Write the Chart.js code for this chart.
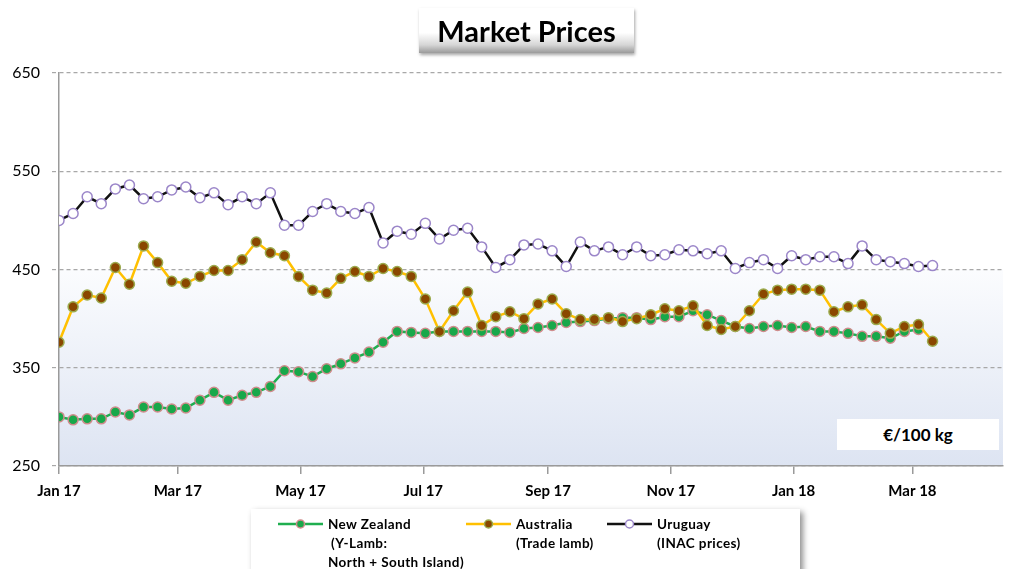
<!DOCTYPE html>
<html>
<head>
<meta charset="utf-8">
<script src="https://cdn.jsdelivr.net/npm/chart.js@4.4.1/dist/chart.umd.min.js"></script>
<style>
  html, body { margin: 0; padding: 0; background: #fff; }
  #wrap { position: relative; width: 1022px; height: 569px; overflow: hidden; font-family: Lato, "Open Sans", sans-serif; }
  canvas { position: absolute; left: 0; top: 0; }
  #title { position: absolute; left: 419px; top: 8px; width: 215px; height: 45px;
    background: linear-gradient(to bottom, #ffffff 0%, #ffffff 55%, #d6d6d6 82%, #9a9a9a 100%);
    box-shadow: 1px 2px 3px rgba(0,0,0,0.35);
    font-weight: bold; font-size: 29px; line-height: 46px; text-align: center; color: #000; }
  #unit { position: absolute; left: 837px; top: 419px; width: 162px; height: 31px; background: #fff;
    font-weight: bold; font-size: 17px; line-height: 31px; text-align: center; color: #000; }
  #legend { position: absolute; left: 251px; top: 509px; width: 549px; height: 80px; background: #fff;
    box-shadow: 3px 3px 6px rgba(0,0,0,0.45); }
  .item { position: absolute; top: 6px; font-weight: bold; font-size: 13.5px; line-height: 19px; color: #000; letter-spacing: 0.4px; }
  .item svg { position: absolute; left: 0; top: 3px; }
  .item .txt { position: absolute; white-space: nowrap; }
</style>
</head>
<body>
<div id="wrap">
  <canvas id="c" width="1022" height="569"></canvas>
  <div id="title">Market Prices</div>
  <div id="unit">€/100 kg</div>
  <div id="legend"></div>
</div>
<script>
// ---- data ----
const weeks = [
  "2017-01-01","2017-01-08","2017-01-15","2017-01-22","2017-01-29",
  "2017-02-05","2017-02-12","2017-02-19","2017-02-26",
  "2017-03-05","2017-03-12","2017-03-19","2017-03-26",
  "2017-04-02","2017-04-09","2017-04-16","2017-04-23","2017-04-30",
  "2017-05-07","2017-05-14","2017-05-21","2017-05-28",
  "2017-06-04","2017-06-11","2017-06-18","2017-06-25",
  "2017-07-02","2017-07-09","2017-07-16","2017-07-23","2017-07-30",
  "2017-08-06","2017-08-13","2017-08-20","2017-08-27",
  "2017-09-03","2017-09-10","2017-09-17","2017-09-24",
  "2017-10-01","2017-10-08","2017-10-15","2017-10-22","2017-10-29",
  "2017-11-05","2017-11-12","2017-11-19","2017-11-26",
  "2017-12-03","2017-12-10","2017-12-17","2017-12-24","2017-12-31",
  "2018-01-07","2018-01-14","2018-01-21","2018-01-28",
  "2018-02-04","2018-02-11","2018-02-18","2018-02-25",
  "2018-03-04","2018-03-11"
];
const newZealand = [
  300,297,298,298,305,302,310,310,308,309,317,325,317,322,325,331,347,
  346,341,349,354,360,366,376,387,386,385,387,387,387,387,387,386,
  390,391,393,396,397,398,400,401,401,399,402,402,408,404,398,392,390,
  392,393,391,392,387,387,385,382,382,380,387,389
];
const australia = [
  376,412,424,421,452,435,474,457,438,436,443,449,449,460,478,467,464,
  443,429,426,441,448,443,451,448,443,420,387,408,427,393,402,407,
  400,415,420,405,399,399,401,397,400,404,410,408,413,393,389,392,408,
  425,429,430,430,429,407,412,414,399,385,392,394,377
];
const uruguay = [
  500,507,524,517,532,536,522,524,531,534,523,528,516,524,517,528,495,
  495,509,517,509,507,513,477,489,486,497,481,490,492,473,452,460,
  475,476,469,453,478,469,473,465,473,464,465,470,469,466,469,451,457,
  460,451,464,460,463,463,456,474,460,458,456,453,454
];
const tickDates = ["2017-01-01","2017-03-01","2017-05-01","2017-07-01","2017-09-01","2017-11-01","2018-01-01","2018-03-01"];
const tickLabels = ["Jan 17","Mar 17","May 17","Jul 17","Sep 17","Nov 17","Jan 18","Mar 18"];
const yTicks = [250, 350, 450, 550, 650];
const seriesNames = ["New Zealand", "Australia", "Uruguay"];
const seriesNotes = [["(Y-Lamb:", "North + South Island)"], ["(Trade lamb)"], ["(INAC prices)"]];

// ---- helpers ----
const DAY = 86400000;
const origin = Date.parse("2017-01-01T00:00:00Z");
const toDay = d => Math.round((Date.parse(d + "T00:00:00Z") - origin) / DAY);
const toPoints = vals => vals.map((v, i) => ({ x: toDay(weeks[i]), y: v }));
const tickDays = tickDates.map(toDay);

const styles = [
  { line: "#1fae4f", fill: "#18a84a", edge: "#cf8c8c" },
  { line: "#ffc000", fill: "#8a4700", edge: "#9cab4e" },
  { line: "#111111", fill: "#ffffff", edge: "#9b86c9" }
];

const bgPlugin = {
  id: "bg",
  beforeDraw(chart) {
    const { ctx, chartArea: a, scales } = chart;
    const y450 = scales.y.getPixelForValue(450);
    ctx.save();
    ctx.fillStyle = "#ffffff";
    ctx.fillRect(a.left, a.top, a.right - a.left, y450 - a.top);
    const g = ctx.createLinearGradient(0, y450, 0, a.bottom);
    g.addColorStop(0, "#fbfcfe");
    g.addColorStop(1, "#dde4f2");
    ctx.fillStyle = g;
    ctx.fillRect(a.left, y450, a.right - a.left, a.bottom - y450);
    ctx.restore();
  }
};

const mk = (i, vals, order) => ({
  label: seriesNames[i],
  data: toPoints(vals),
  order: order,
  borderColor: styles[i].line,
  borderWidth: 2.5,
  pointRadius: 5,
  pointBorderWidth: 1.5,
  pointBackgroundColor: styles[i].fill,
  pointBorderColor: styles[i].edge,
  tension: 0,
  fill: false
});

new Chart(document.getElementById("c"), {
  type: "line",
  data: {
    datasets: [mk(0, newZealand, 1), mk(1, australia, 0), mk(2, uruguay, 2)]
  },
  plugins: [bgPlugin],
  options: {
    responsive: false,
    animation: false,
    layout: { padding: { top: 73, right: 19, left: 0, bottom: 0 } },
    plugins: { legend: { display: false }, title: { display: false }, tooltip: { enabled: false } },
    scales: {
      x: {
        type: "linear",
        min: 0,
        max: 469,
        afterBuildTicks: s => { s.ticks = tickDays.map(v => ({ value: v })); },
        afterFit: s => { s.height = 103; },
        ticks: {
          autoSkip: false, maxRotation: 0, padding: 8, color: "#000",
          font: { family: "Lato", size: 15, weight: "bold" },
          callback: v => tickLabels[tickDays.indexOf(v)]
        },
        grid: { drawOnChartArea: false, drawTicks: true, tickLength: 8, color: "#9a9a9a", lineWidth: 1.5 },
        border: { color: "#9a9a9a", width: 1.5 }
      },
      y: {
        min: 250,
        max: 650,
        afterBuildTicks: s => { s.ticks = yTicks.map(v => ({ value: v })); },
        afterFit: s => { s.width = 59; },
        ticks: { padding: 12, color: "#000", font: { family: "Lato", size: 16 } },
        grid: { color: "#a8a8a8", lineWidth: 1.2, tickLength: 7, tickBorderDash: [4, 3], tickColor: "#a8a8a8" },
        border: { color: "#9a9a9a", width: 1.5, dash: [4, 3] }
      }
    }
  }
});

// ---- legend (HTML) ----
const legendX = [27, 215, 356];
const legend = document.getElementById("legend");
seriesNames.forEach((name, i) => {
  const it = document.createElement("div");
  it.className = "item";
  it.style.left = legendX[i] + "px";
  const s = styles[i];
  it.innerHTML =
    '<svg width="46" height="12"><line x1="0" y1="6" x2="45" y2="6" stroke="' + s.line + '" stroke-width="2.5"/>' +
    '<circle cx="22.5" cy="6" r="4" fill="' + s.fill + '" stroke="' + s.edge + '" stroke-width="1.5"/></svg>' +
    '<div class="txt" style="left:50px;top:0">' + name + '</div>' +
    seriesNotes[i].map((t, k) => '<div class="txt" style="left:' + (i === 0 && k === 0 ? 53 : 50) + 'px;top:' + (19 * (k + 1)) + 'px">' + t + '</div>').join("");
  legend.appendChild(it);
});
</script>
</body>
</html>
